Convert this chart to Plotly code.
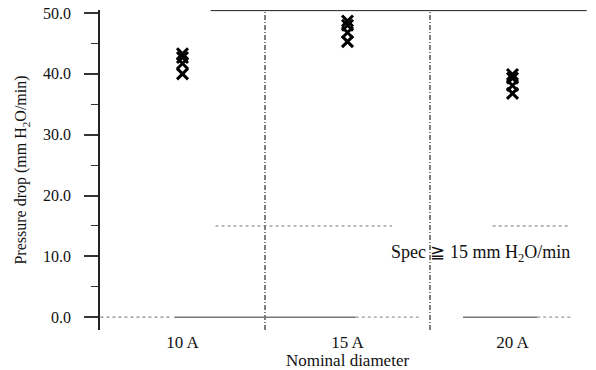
import plotly.graph_objects as go

categories = ["10 A", "15 A", "20 A"]
vals_10A = [43.3, 42.7, 41.7, 40.0]
vals_15A = [48.7, 48.0, 46.8, 45.3]
vals_20A = [39.9, 39.3, 38.1, 36.8]
spec_value = 15.0
y_ticks = [0, 10, 20, 30, 40, 50]
y_tick_text = ["0.0", "10.0", "20.0", "30.0", "40.0", "50.0"]

SERIF = "Liberation Serif, Times New Roman, serif"

xs, ys = [], []
for i, vals in enumerate([vals_10A, vals_15A, vals_20A]):
    for v in vals:
        xs.append(i)
        ys.append(v)

fig = go.Figure()
fig.add_trace(go.Scatter(
    x=xs, y=ys, mode="markers",
    marker=dict(symbol="x-thin", size=11, line=dict(color="black", width=3)),
    showlegend=False, hoverinfo="y"))

ymin, ymax = -2.1, 50.5
DASHDOT = "5px,2px,1px,2px"
shapes = []
# category dividers
for xd in [0.5, 1.5]:
    shapes.append(dict(type="line", xref="x", yref="y", x0=xd, x1=xd, y0=ymin, y1=ymax,
                       line=dict(color="black", width=1, dash=DASHDOT)))
# right edge
shapes.append(dict(type="line", xref="x", yref="y", x0=2.495, x1=2.495, y0=ymin, y1=ymax,
                   line=dict(color="#666", width=1, dash=DASHDOT)))
# top line
shapes.append(dict(type="line", xref="x", yref="y", x0=0.17, x1=2.45, y0=ymax - 0.1, y1=ymax - 0.1,
                   line=dict(color="#222", width=1)))
# zero line
shapes.append(dict(type="line", xref="x", yref="y", x0=-0.57, x1=-0.08, y0=0, y1=0,
                   line=dict(color="#888", width=1.2, dash="dot")))
shapes.append(dict(type="line", xref="x", yref="y", x0=-0.05, x1=1.05, y0=0, y1=0,
                   line=dict(color="#777", width=1.5)))
shapes.append(dict(type="line", xref="x", yref="y", x0=1.05, x1=1.45, y0=0, y1=0,
                   line=dict(color="#999", width=1.2, dash="dot")))
shapes.append(dict(type="line", xref="x", yref="y", x0=1.7, x1=2.15, y0=0, y1=0,
                   line=dict(color="#777", width=1.5)))
shapes.append(dict(type="line", xref="x", yref="y", x0=2.15, x1=2.35, y0=0, y1=0,
                   line=dict(color="#999", width=1.2, dash="dot")))
# spec line
shapes.append(dict(type="line", xref="x", yref="y", x0=0.2, x1=1.27, y0=spec_value, y1=spec_value,
                   line=dict(color="#777", width=1, dash="dot")))
shapes.append(dict(type="line", xref="x", yref="y", x0=1.88, x1=2.35, y0=spec_value, y1=spec_value,
                   line=dict(color="#777", width=1, dash="dot")))

# the page body has an 8px margin, so the figure is offset by (8, 8)
fig.update_layout(
    width=588, height=362,
    margin=dict(l=92, r=1, t=2, b=40),
    paper_bgcolor="white", plot_bgcolor="white",
    font=dict(family=SERIF, size=16, color="#111"),
    shapes=shapes,
    annotations=[dict(
        x=2.36, y=spec_value - 4.5, xref="x", yref="y", xanchor="right", yanchor="middle",
        text="Spec ≧ 15 mm H<sub>2</sub>O/min", showarrow=False,
        font=dict(family=SERIF, size=18, color="#111"))],
)
fig.update_xaxes(
    type="linear", range=[-0.5, 2.5],
    tickmode="array", tickvals=[0, 1, 2], ticktext=categories,
    ticks="", showgrid=False, zeroline=False, showline=False,
    ticklabelstandoff=0,
    title=dict(text="Nominal diameter", standoff=0, font=dict(family=SERIF, size=17)),
    tickfont=dict(family=SERIF, size=17),
    automargin=False,
)
fig.update_yaxes(
    range=[ymin, ymax],
    tickmode="array", tickvals=y_ticks, ticktext=y_tick_text,
    ticks="outside", ticklen=14, tickwidth=1.5, tickcolor="#333",
    minor=dict(tickmode="array", tickvals=[5, 15, 25, 35, 45], ticks="outside", ticklen=7,
               tickwidth=1, tickcolor="#333"),
    showline=True, linecolor="#222", linewidth=1.5,
    showgrid=False, zeroline=False,
    ticklabelstandoff=10, ticklabeloverflow="allow",
    title=dict(text="Pressure drop (mm H<sub>2</sub>O/min)", standoff=12,
               font=dict(family=SERIF, size=16)),
    tickfont=dict(family=SERIF, size=16),
    automargin=False,
)

fig.write_html("out.html")
